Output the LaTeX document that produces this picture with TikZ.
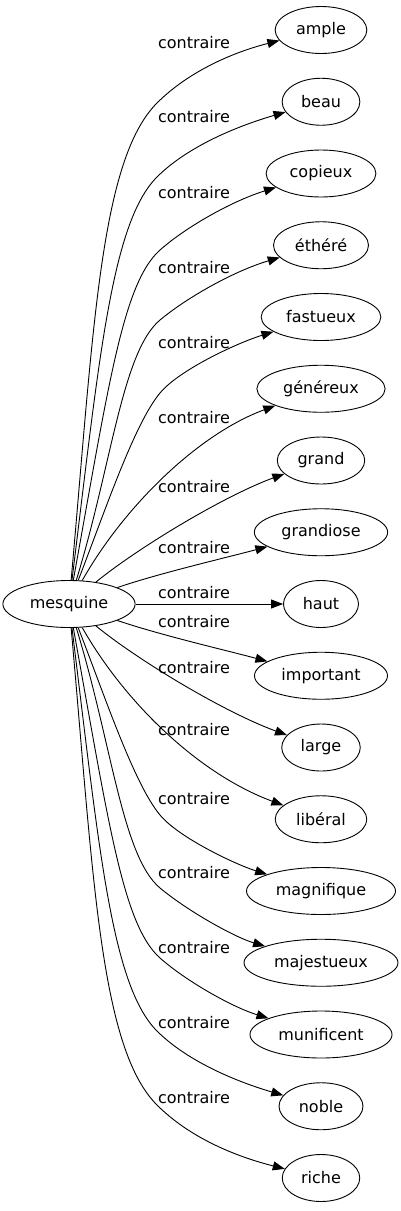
\documentclass[tikz,border=0pt]{standalone}
\usepackage{fontspec}
\setmainfont{DejaVu Sans}
\usetikzlibrary{arrows.meta,shapes.geometric}
\newcommand\my[1]{604+\s*(#1-604)}
\newcommand\fanA[2]{\def\s{#1}\draw[rel] (mesquine) .. controls (93.5,{\my{330}}) and (100,{\my{160}}) .. (157,{\my{103}}) .. controls (189,{\my{71}}) and (234,{\my{52}}) .. (#2);}
\newcommand\fanB[2]{\def\s{#1}\draw[rel] (mesquine) .. controls (99,{\my{362}}) and (111,{\my{223}}) .. (157,{\my{177}}) .. controls (189,{\my{145}}) and (241,{\my{125}}) .. (#2);}
\newcommand\fanC[2]{\def\s{#1}\draw[rel] (mesquine) .. controls (109,{\my{383}}) and (123,{\my{283}}) .. (160,{\my{250}}) .. controls (186,{\my{227}}) and (232,{\my{201}}) .. (#2);}
\newcommand\fanD[2]{\def\s{#1}\draw[rel] (mesquine) .. controls (112,{\my{464}}) and (122,{\my{352}}) .. (160,{\my{320}}) .. controls (187,{\my{297.5}}) and (234,{\my{271}}) .. (#2);}
\newcommand\fanE[2]{\def\s{#1}\draw[rel] (mesquine) .. controls (104,{\my{514}}) and (134,{\my{424}}) .. (160,{\my{393}}) .. controls (179,{\my{370}}) and (237,{\my{343}}) .. (#2);}
\newcommand\fanF[2]{\def\s{#1}\draw[rel] (mesquine) .. controls (122.5,{\my{509}}) and (196,{\my{435}}) .. (#2);}
\newcommand\fanG[2]{\def\s{#1}\draw[rel] (mesquine) .. controls (139,{\my{547}}) and (225,{\my{495.5}}) .. (#2);}
\newcommand\fanH[2]{\def\s{#1}\draw[rel] (mesquine) .. controls (160,{\my{573}}) and (225,{\my{558}}) .. (#2);}
\begin{document}
\begin{tikzpicture}[x=1pt,y=-1pt,
  word/.style={draw, ellipse, line width=0.9pt, minimum height=47pt, minimum width=75pt,
    inner xsep=7.5pt, inner ysep=0pt, font=\fontsize{16}{19}\selectfont},
  lbl/.style={font=\fontsize{16}{19}\selectfont, inner sep=0pt},
  rel/.style={line width=0.9pt, -{Triangle[length=12pt,width=9pt]}}]
\path[use as bounding box] (0,0) rectangle (400,1211);
\node[word] (mesquine) at (69,604) {mesquine};
\node[word] (ample) at (321,30) {ample};
\node[word] (beau) at (321,101.75) {beau};
\node[word] (copieux) at (321,173.5) {copieux};
\node[word] (ethere) at (321,245.25) {éthéré};
\node[word] (fastueux) at (321,317) {fastueux};
\node[word] (genereux) at (321,388.75) {généreux};
\node[word] (grand) at (321,460.5) {grand};
\node[word] (grandiose) at (321,532.25) {grandiose};
\node[word] (haut) at (321,604) {haut};
\node[word] (important) at (321,675.75) {important};
\node[word] (large) at (321,747.5) {large};
\node[word] (liberal) at (321,819.25) {libéral};
\node[word] (magnifique) at (321,891) {magnifique};
\node[word] (majestueux) at (321,962.75) {majestueux};
\node[word] (munificent) at (321,1034.5) {munificent};
\node[word] (noble) at (321,1106.25) {noble};
\node[word] (riche) at (321,1178) {riche};
\node[lbl] (l1) at (194,43) {contraire};
\node[lbl] (l2) at (194,117) {contraire};
\node[lbl] (l3) at (194,193) {contraire};
\node[lbl] (l4) at (194,268) {contraire};
\node[lbl] (l5) at (194,343) {contraire};
\node[lbl] (l6) at (194,418) {contraire};
\node[lbl] (l7) at (194,487) {contraire};
\node[lbl] (l8) at (194,548) {contraire};
\node[lbl] (l9) at (194,593) {contraire};
\node[lbl] (l10) at (194,622) {contraire};
\node[lbl] (l11) at (194,668) {contraire};
\node[lbl] (l12) at (194,730) {contraire};
\node[lbl] (l13) at (194,799) {contraire};
\node[lbl] (l14) at (194,873) {contraire};
\node[lbl] (l15) at (194,948) {contraire};
\node[lbl] (l16) at (194,1023) {contraire};
\node[lbl] (l17) at (194,1098) {contraire};
\fanA{1}{ample}
\fanB{1}{beau}
\fanC{1}{copieux}
\fanD{1}{ethere}
\fanE{1}{fastueux}
\fanF{1}{genereux}
\fanG{1}{grand}
\fanH{1}{grandiose}
\draw[rel] (mesquine) -- (haut);
\fanH{-1}{important}
\fanG{-1}{large}
\fanF{-1}{liberal}
\fanE{-1}{magnifique}
\fanD{-1}{majestueux}
\fanC{-1}{munificent}
\fanB{-1}{noble}
\fanA{-1}{riche}
\end{tikzpicture}
\end{document}
